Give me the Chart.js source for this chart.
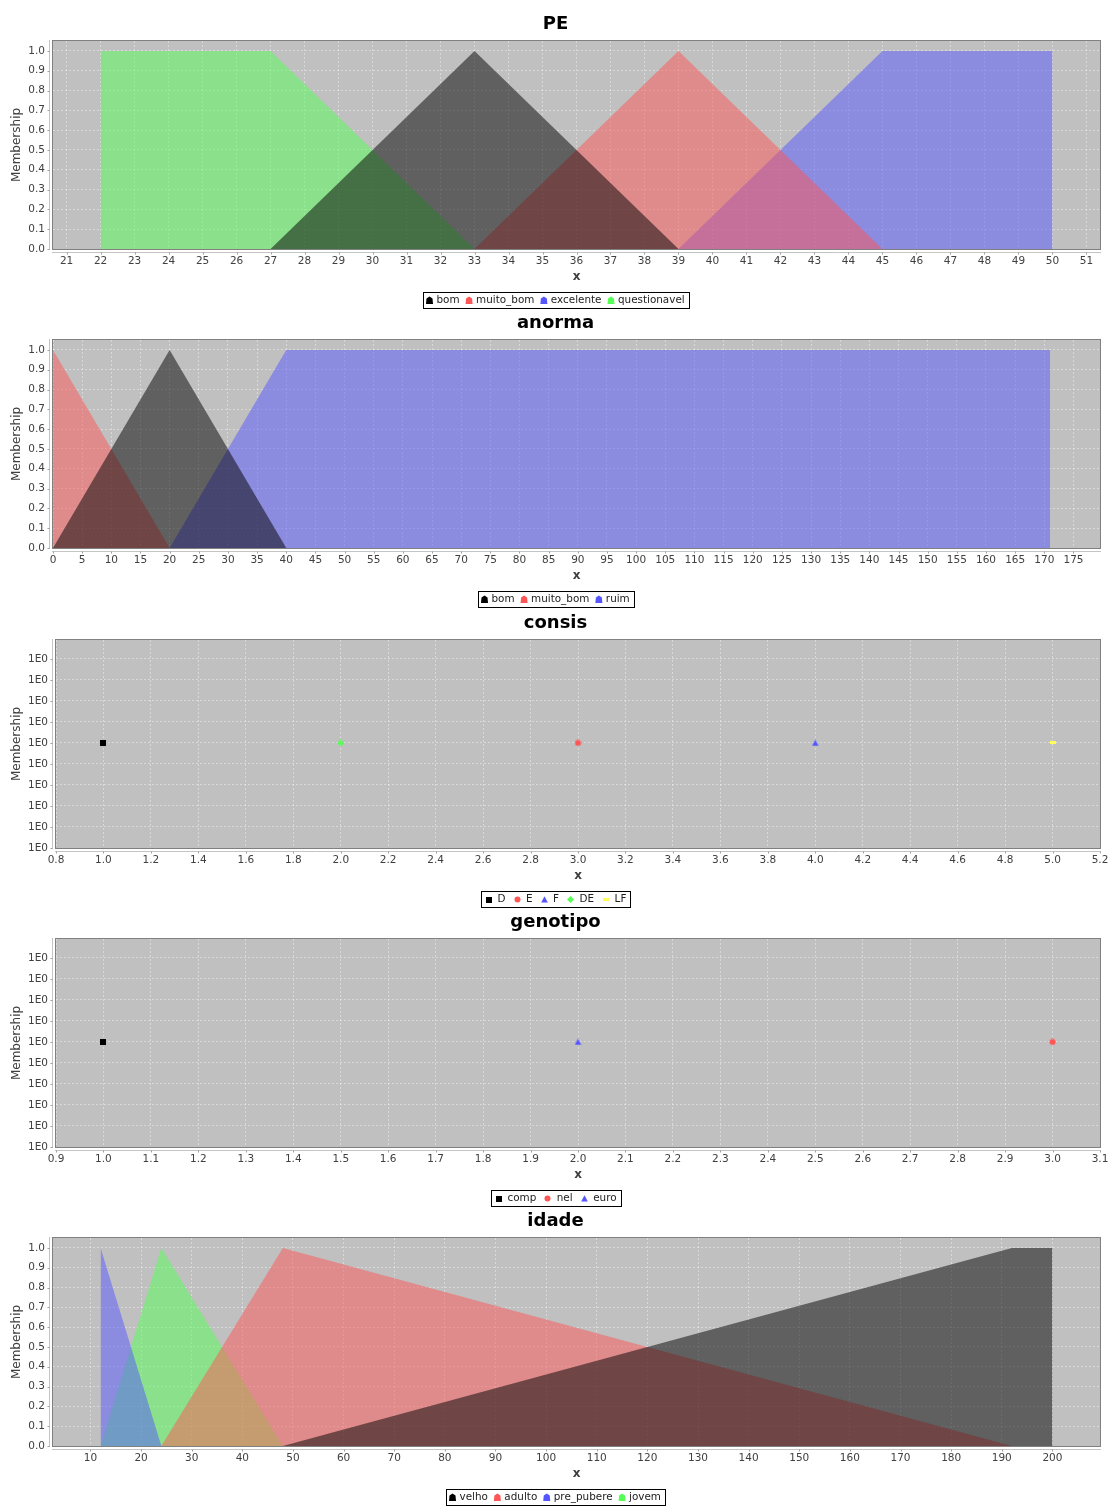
<!DOCTYPE html>
<html lang="pt">
<head>
<meta charset="utf-8">
<title>Funções de pertinência</title>
<script src="https://cdn.jsdelivr.net/npm/chart.js@4.4.1/dist/chart.umd.min.js"></script>
<style>
  html, body { margin: 0; padding: 0; background: #fff; overflow: hidden; }
  #painel { position: relative; width: 1111px; height: 1506px; }
  #painel canvas { position: absolute; left: 0; }
</style>
</head>
<body>
<div id="painel">
  <canvas id="grafPE" width="1111" height="310"></canvas>
  <canvas id="grafAnorma" width="1111" height="310"></canvas>
  <canvas id="grafConsis" width="1111" height="310"></canvas>
  <canvas id="grafGenotipo" width="1111" height="310"></canvas>
  <canvas id="grafIdade" width="1111" height="310"></canvas>
</div>
<script>
// ===== PE =====
const peBom          = [[27, 0], [33, 1], [39, 0]];
const peMuitoBom     = [[33, 0], [39, 1], [45, 0]];
const peExcelente    = [[39, 0], [45, 1], [50, 1], [50, 0]];
const peQuestionavel = [[22, 0], [22, 1], [27, 1], [33, 0]];
const peTicksX = [21, 22, 23, 24, 25, 26, 27, 28, 29, 30, 31, 32, 33, 34, 35, 36,
                  37, 38, 39, 40, 41, 42, 43, 44, 45, 46, 47, 48, 49, 50, 51];

// ===== anorma =====
const anormaBom      = [[0, 0], [20, 1], [40, 0]];
const anormaMuitoBom = [[0, 1], [20, 0]];
const anormaRuim     = [[20, 0], [40, 1], [171, 1], [171, 0]];
const anormaTicksX = [0, 5, 10, 15, 20, 25, 30, 35, 40, 45, 50, 55, 60, 65, 70, 75, 80, 85,
                      90, 95, 100, 105, 110, 115, 120, 125, 130, 135, 140, 145, 150, 155,
                      160, 165, 170, 175];

// ===== consis (singletons) =====
const consisRotulos = ['D', 'E', 'F', 'DE', 'LF'];
const consisX = [1, 3, 4, 2, 5];
const consisY = [1, 1, 1, 1, 1];
const consisTicksX = [0.8, 1.0, 1.2, 1.4, 1.6, 1.8, 2.0, 2.2, 2.4, 2.6, 2.8, 3.0,
                      3.2, 3.4, 3.6, 3.8, 4.0, 4.2, 4.4, 4.6, 4.8, 5.0, 5.2];

// ===== genotipo (singletons) =====
const genotipoRotulos = ['comp', 'nel', 'euro'];
const genotipoX = [1, 3, 2];
const genotipoY = [1, 1, 1];
const genotipoTicksX = [0.9, 1.0, 1.1, 1.2, 1.3, 1.4, 1.5, 1.6, 1.7, 1.8, 1.9, 2.0,
                        2.1, 2.2, 2.3, 2.4, 2.5, 2.6, 2.7, 2.8, 2.9, 3.0, 3.1];

// ===== idade =====
const idadeVelho     = [[48, 0], [192, 1], [200, 1], [200, 0]];
const idadeAdulto    = [[24, 0], [48, 1], [192, 0]];
const idadePrePubere = [[12, 0], [12, 1], [24, 0]];
const idadeJovem     = [[12, 0], [24, 1], [48, 0]];
const idadeTicksX = [10, 20, 30, 40, 50, 60, 70, 80, 90, 100, 110, 120, 130, 140, 150,
                     160, 170, 180, 190, 200];

// eixo Y comum
const pertinenciaTicks = [0, 0.1, 0.2, 0.3, 0.4, 0.5, 0.6, 0.7, 0.8, 0.9, 1.0];
const singletonTicksY = [0.999995, 0.999996, 0.999997, 0.999998, 0.999999, 1,
                         1.000001, 1.000002, 1.000003, 1.000004];

// paleta (serie 0 preta, depois a sequencia padrao)
const CORES = ['#000000', '#ff5555', '#5555ff', '#55ff55', '#ffff55'];
const CORES_AREA = ['rgba(0,0,0,0.5)', 'rgba(255,85,85,0.5)', 'rgba(85,85,255,0.5)', 'rgba(85,255,85,0.5)'];

const FONTE = '"DejaVu Sans", sans-serif';
Chart.defaults.font.family = FONTE;
Chart.defaults.color = '#404040';

const TOPOS = [0, 299, 599, 898, 1197];
document.querySelectorAll('#painel canvas').forEach((c, i) => { c.style.top = TOPOS[i] + 'px'; });

// formas dos marcadores (quadrado, circulo, triangulo, losango, retangulo)
function criaForma(tipo, cor){
  const c = document.createElement('canvas');
  const g = c.getContext('2d');
  if(tipo === 'retangulo'){ c.width = 6; c.height = 3; }
  else if(tipo === 'quadrado'){ c.width = 6; c.height = 6; }
  else { c.width = 7; c.height = 7; }
  g.fillStyle = cor;
  g.beginPath();
  if(tipo === 'quadrado' || tipo === 'retangulo'){
    g.rect(0, 0, c.width, c.height);
  } else if(tipo === 'circulo'){
    g.arc(3.5, 3.5, 3, 0, Math.PI * 2);
  } else if(tipo === 'triangulo'){
    g.moveTo(3.5, 0.3); g.lineTo(6.8, 6.5); g.lineTo(0.2, 6.5); g.closePath();
  } else if(tipo === 'losango'){
    g.moveTo(3.5, 0); g.lineTo(7, 3.5); g.lineTo(3.5, 7); g.lineTo(0, 3.5); g.closePath();
  }
  g.fill();
  return c;
}
const FORMAS = ['quadrado', 'circulo', 'triangulo', 'losango', 'retangulo'];

// marcador de legenda das areas
function marcaArea(ctx, cor, cx, cy){
  ctx.fillStyle = cor;
  ctx.beginPath();
  ctx.moveTo(cx, cy - 4);
  ctx.lineTo(cx + 3, cy - 2);
  ctx.lineTo(cx + 3.5, cy + 3.5);
  ctx.lineTo(cx - 3.5, cy + 3.5);
  ctx.lineTo(cx - 3, cy - 2);
  ctx.closePath();
  ctx.fill();
}

// fundo do plot, contorno, eixos deslocados, titulo e legenda em caixa
const molduraPlugin = {
  id: 'moldura',
  beforeDraw(chart){
    const a = chart.chartArea, ctx = chart.ctx;
    ctx.save();
    ctx.fillStyle = '#c0c0c0';
    ctx.fillRect(a.left, a.top, a.right - a.left, a.bottom - a.top);
    ctx.restore();
  },
  afterDraw(chart, args, o){
    const a = chart.chartArea, ctx = chart.ctx;
    const sx = chart.scales.x, sy = chart.scales.y;
    ctx.save();

    ctx.strokeStyle = '#808080';
    ctx.lineWidth = 1;
    ctx.strokeRect(a.left - 0.5, a.top - 0.5, a.right - a.left + 1, a.bottom - a.top + 1);

    const yEixo = a.bottom + 3.5, xEixo = a.left - 3.5;
    ctx.strokeStyle = '#c4c4c4';
    ctx.beginPath();
    ctx.moveTo(a.left - 1, yEixo); ctx.lineTo(a.right + 1, yEixo);
    ctx.moveTo(xEixo, a.top - 1); ctx.lineTo(xEixo, a.bottom + 1);
    ctx.stroke();
    ctx.strokeStyle = '#a0a0a0';
    ctx.beginPath();
    sx.ticks.forEach(t => {
      const px = Math.round(sx.getPixelForValue(t.value)) + 0.5;
      ctx.moveTo(px, yEixo); ctx.lineTo(px, yEixo + 2);
    });
    sy.ticks.forEach(t => {
      const py = Math.round(sy.getPixelForValue(t.value)) + 0.5;
      ctx.moveTo(xEixo, py); ctx.lineTo(xEixo - 2, py);
    });
    ctx.stroke();

    // titulo
    ctx.fillStyle = '#000';
    ctx.font = 'bold 18px ' + FONTE;
    ctx.textAlign = 'center';
    ctx.textBaseline = 'alphabetic';
    ctx.fillText(o.titulo, chart.width / 2, 29);

    // legenda
    ctx.font = o.fonteLegenda + 'px ' + FONTE;
    const itens = chart.data.datasets.map(ds => ({
      texto: ds.label, cor: ds.borderColor, forma: ds.pointStyle,
      w: ctx.measureText(ds.label).width
    }));
    let largura = o.padL + o.padR;
    itens.forEach((it, i) => { largura += 7 + o.gapMT + it.w + (i ? o.gapItens : 0); });
    largura = Math.round(largura);
    const x0 = Math.round(chart.width / 2 - largura / 2), y0 = Math.round(a.bottom) + 43, h = 16;
    ctx.strokeStyle = '#000';
    ctx.strokeRect(x0 + 0.5, y0 + 0.5, largura, h);
    let x = x0 + o.padL;
    const yc = y0 + h / 2 + 0.5;
    itens.forEach((it, i) => {
      if(i) x += o.gapItens;
      if(o.area){
        marcaArea(ctx, it.cor, x + 3.5, yc);
      } else {
        const f = it.forma;
        ctx.drawImage(f, Math.round(x + 3.5 - f.width / 2), Math.round(yc - f.height / 2));
      }
      x += 7 + o.gapMT;
      ctx.fillStyle = '#222';
      ctx.textAlign = 'left';
      ctx.textBaseline = 'middle';
      ctx.fillText(it.texto, x, yc);
      x += it.w;
    });
    ctx.restore();
  }
};

function eixoX(min, max, ticks, fmt){
  return {
    type: 'linear', min: min, max: max,
    afterBuildTicks: s => { s.ticks = ticks.map(v => ({ value: v })); },
    // rotulos das pontas podem sair da area do plot
    afterFit: s => { s.height = 40; s.paddingLeft = 0; s.paddingRight = 0; },
    ticks: { callback: fmt, autoSkip: false, maxRotation: 0, padding: 6, color: '#404040', font: { size: 10.5 } },
    grid: { color: 'rgba(255,255,255,0.4)', drawTicks: false },
    border: { display: false, dash: [2, 2] },
    title: { display: true, text: 'x', color: '#404040', font: { size: 12, weight: 'bold' }, padding: { top: 0, bottom: 5 } }
  };
}

function eixoY(min, max, ticks, fmt, largura){
  return {
    type: 'linear', min: min, max: max,
    afterBuildTicks: s => { s.ticks = ticks.map(v => ({ value: v })); },
    afterFit: s => { s.width = largura; s.paddingTop = 0; s.paddingBottom = 0; },
    ticks: { callback: fmt, autoSkip: false, padding: 8, color: '#404040', font: { size: 10.5 } },
    grid: { color: 'rgba(255,255,255,0.4)', drawTicks: false },
    border: { display: false, dash: [2, 2] },
    title: { display: true, text: 'Membership', color: '#404040', font: { size: 12 }, padding: { top: 10, bottom: 0 } }
  };
}

const baseOpcoes = {
  responsive: false,
  animation: false,
  events: [],
  layout: { padding: { top: 41, right: 11, bottom: 21, left: 0 } },
  plugins: { legend: { display: false }, tooltip: { enabled: false } }
};

function graficoArea(id, titulo, nomes, series, xMin, xMax, ticksX){
  new Chart(document.getElementById(id), {
    type: 'line',
    data: {
      datasets: series.map((s, i) => ({
        label: nomes[i],
        data: s.map(p => ({ x: p[0], y: p[1] })),
        fill: 'origin',
        backgroundColor: CORES_AREA[i],
        borderColor: CORES[i],
        borderWidth: 0,
        pointRadius: 0,
        tension: 0
      }))
    },
    options: {
      ...baseOpcoes,
      scales: {
        x: eixoX(xMin, xMax, ticksX, v => String(v)),
        y: eixoY(0, 1.05, pertinenciaTicks, v => Number(v).toFixed(1), 53)
      },
      plugins: {
        ...baseOpcoes.plugins,
        moldura: { titulo: titulo, area: true, fonteLegenda: 10.4, padL: 3, padR: 4, gapMT: 3.5, gapItens: 6 }
      }
    },
    plugins: [molduraPlugin]
  });
}

function graficoSingleton(id, titulo, nomes, xs, ys, xMin, xMax, ticksX){
  new Chart(document.getElementById(id), {
    type: 'scatter',
    data: {
      datasets: nomes.map((n, i) => ({
        label: n,
        data: [{ x: xs[i], y: ys[i] }],
        pointStyle: criaForma(FORMAS[i], CORES[i]),
        pointRadius: 4,
        borderColor: CORES[i],
        backgroundColor: CORES[i]
      }))
    },
    options: {
      ...baseOpcoes,
      scales: {
        x: eixoX(xMin, xMax, ticksX, v => Number(v).toFixed(1)),
        y: eixoY(0.999995, 1.0000049, singletonTicksY,
                 v => Number(v).toExponential(0).replace('e+', 'E').replace('e-', 'E-'), 56)
      },
      plugins: {
        ...baseOpcoes.plugins,
        moldura: { titulo: titulo, area: false, fonteLegenda: 10.4, padL: 4, padR: 4, gapMT: 5.5, gapItens: 8 }
      }
    },
    plugins: [molduraPlugin]
  });
}

graficoArea('grafPE', 'PE', ['bom', 'muito_bom', 'excelente', 'questionavel'],
  [peBom, peMuitoBom, peExcelente, peQuestionavel], 20.6, 51.4, peTicksX);

graficoArea('grafAnorma', 'anorma', ['bom', 'muito_bom', 'ruim'],
  [anormaBom, anormaMuitoBom, anormaRuim], 0, 179.55, anormaTicksX);

graficoSingleton('grafConsis', 'consis', consisRotulos, consisX, consisY, 0.8, 5.2, consisTicksX);

graficoSingleton('grafGenotipo', 'genotipo', genotipoRotulos, genotipoX, genotipoY, 0.9, 3.1, genotipoTicksX);

graficoArea('grafIdade', 'idade', ['velho', 'adulto', 'pre_pubere', 'jovem'],
  [idadeVelho, idadeAdulto, idadePrePubere, idadeJovem], 2.6, 209.4, idadeTicksX);
</script>
</body>
</html>
